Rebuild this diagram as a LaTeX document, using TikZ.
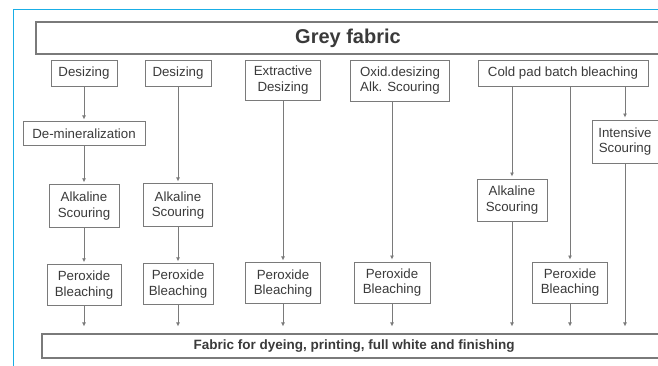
\documentclass[tikz,border=0pt]{standalone}
\usepackage{fontspec}
\setsansfont{Liberation Sans}
\usepackage{tikz}
\usetikzlibrary{arrows.meta, positioning}
\definecolor{frameBlue}{HTML}{19AEE6}
\definecolor{lineGray}{HTML}{7A7A7A}
\definecolor{textGray}{HTML}{3A3A3A}
\tikzset{%
>={Latex[width=4pt,length=4pt]},
% Specifications for style of nodes:
base/.style = {draw=lineGray, line width=0.9pt, text=textGray, inner sep=2pt, text centered},
process/.style = {base, rectangle, font=\sffamily\fontsize{13.3}{15.5}\selectfont},
banner/.style = {base, rectangle, line width=1.1pt},
flow/.style = {draw=lineGray, line width=0.8pt, ->, shorten >=2pt},
}

\begin{document}
\begin{tikzpicture}[x=1pt, y=-1pt, align=center]
    \clip (0,0) rectangle (658,366);
    \draw [frameBlue, line width=1pt] (13,370) |- (662,10);
    % Specification of nodes (position, etc.)
    \node (greyFabric) [banner, minimum width=624pt, minimum height=32pt, font=\sffamily\bfseries\fontsize{20}{24}\selectfont] at (348,38) {Grey fabric};
    \node (desizingA) [process, minimum width=66pt, minimum height=26pt] at (84,73) {Desizing};
    \node (demin) [process, minimum width=122pt, minimum height=24pt, below=35pt of desizingA] {De-mineralization};
    \node (alkalineA) [process, minimum width=70pt, minimum height=43pt, below=38pt of demin] {Alkaline\\Scouring};
    \node (peroxideA) [process, minimum width=74pt, minimum height=41pt, below=36pt of alkalineA] {Peroxide\\Bleaching};
    \node (desizingB) [process, minimum width=66pt, minimum height=26pt] at (178,73) {Desizing};
    \node (alkalineB) [process, minimum width=69pt, minimum height=43pt, below=97pt of desizingB] {Alkaline\\Scouring};
    \node (peroxideB) [process, minimum width=70pt, minimum height=41pt, below=36pt of alkalineB] {Peroxide\\Bleaching};
    \node (extractive) [process, minimum width=75pt, minimum height=40pt] at (283,80) {Extractive\\Desizing};
    \node (peroxideC) [process, minimum width=75pt, minimum height=41pt, below=162pt of extractive] {Peroxide\\Bleaching};
    \node (oxid) [process, minimum width=99pt, minimum height=41pt] at (400,80.5) {Oxid.desizing\\Alk. Scouring};
    \node (peroxideD) [process, minimum width=76pt, minimum height=41pt] at (392,282.5) {Peroxide\\Bleaching};
    \node (coldPad) [process, minimum width=170pt, minimum height=26pt] at (563,73) {Cold pad batch bleaching};
    \node (intensive) [process, minimum width=66pt, minimum height=43pt] at (625,141.5) {Intensive\\Scouring};
    \node (alkalineC) [process, minimum width=70pt, minimum height=42pt] at (512,200) {Alkaline\\Scouring};
    \node (peroxideE) [process, minimum width=75pt, minimum height=41pt] at (570,282.5) {Peroxide\\Bleaching};
    \node (fabricOut) [banner, minimum width=624pt, minimum height=24pt, font=\sffamily\bfseries\fontsize{13.5}{16}\selectfont] at (354,346) {Fabric for dyeing, printing, full white and finishing};

    \draw [flow] (desizingA) -- (demin);
    \draw [flow] (demin) -- (alkalineA);
    \draw [flow] (alkalineA) -- (peroxideA);
    \draw [flow] (desizingB) -- (alkalineB);
    \draw [flow] (alkalineB) -- (peroxideB);
    \draw [flow] (extractive) -- (peroxideC);
    \draw [flow] (oxid.south -| peroxideD) -- (peroxideD);
    \draw [flow] (coldPad.south -| alkalineC) -- (alkalineC);
    \draw [flow] (coldPad.south -| peroxideE) -- (peroxideE);
    \draw [flow] (coldPad.south -| intensive) -- (intensive);
    \draw [flow, shorten >=7pt] (peroxideA) -- (peroxideA |- fabricOut.north);
    \draw [flow, shorten >=7pt] (peroxideB) -- (peroxideB |- fabricOut.north);
    \draw [flow, shorten >=7pt] (peroxideC) -- (peroxideC |- fabricOut.north);
    \draw [flow, shorten >=7pt] (peroxideD) -- (peroxideD |- fabricOut.north);
    \draw [flow, shorten >=7pt] (alkalineC) -- (alkalineC |- fabricOut.north);
    \draw [flow, shorten >=7pt] (peroxideE) -- (peroxideE |- fabricOut.north);
    \draw [flow, shorten >=7pt] (intensive) -- (intensive |- fabricOut.north);
\end{tikzpicture}
\end{document}
